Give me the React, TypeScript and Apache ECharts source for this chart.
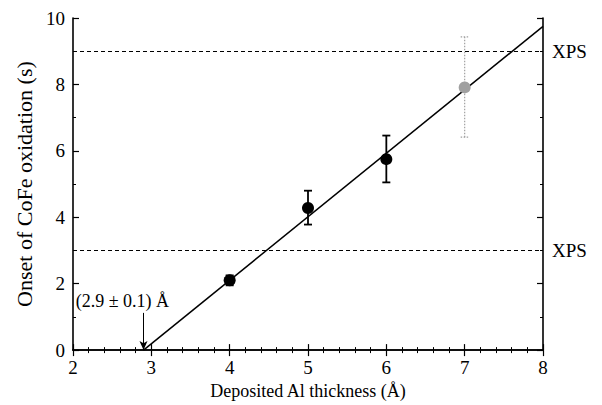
import React, { useEffect, useRef } from "react";
import * as echarts from "echarts";

const thickness = [4, 5, 6, 7];
const onset = [2.1, 4.28, 5.75, 7.91];
const errLow = [1.95, 3.78, 5.05, 6.41];
const errHigh = [2.25, 4.8, 6.46, 9.43];
const pointColors = ["#000000", "#000000", "#000000", "#a0a0a0"];
const fitLine = [
  [2.9, 0],
  [8, 9.75],
];
const xpsLevels = [3, 9];
const arrowStart = [2.9, 1.12];
const arrowEnd = [2.9, 0];
const annotationText = "(2.9 ± 0.1) Å";
const annotationPos = [2.63, 1.48];

const FONT = "Liberation Serif";

export default function App() {
  const ref = useRef<HTMLDivElement>(null);
  useEffect(() => {
    const chart = echarts.init(ref.current!, null, { renderer: "svg" });
    const axisCommon = {
      axisLine: { show: true, lineStyle: { color: "#000", width: 1.6 } },
      splitLine: { show: false },
    };
    chart.setOption({
      animation: false,
      backgroundColor: "#fff",
      grid: { left: 73, right: 59, top: 18, bottom: 54 },
      xAxis: [
        {
          type: "value",
          min: 2,
          max: 8,
          interval: 1,
          name: "Deposited Al thickness (Å)",
          nameLocation: "middle",
          nameGap: 28,
          nameTextStyle: { fontFamily: FONT, fontSize: 18, color: "#000" },
          ...axisCommon,
          axisTick: { inside: true, length: 6, lineStyle: { color: "#000", width: 1.2 } },
          minorTick: { show: true, splitNumber: 5, length: 3, lineStyle: { color: "#000", width: 1 } },
          axisLabel: { fontFamily: FONT, fontSize: 19, color: "#000", margin: 8 },
        },
        {
          type: "value",
          position: "top",
          min: 2,
          max: 8,
          interval: 1,
          ...axisCommon,
          axisTick: { inside: true, length: 6, lineStyle: { color: "#000", width: 1.2 } },
          minorTick: { show: true, splitNumber: 5, length: 3, lineStyle: { color: "#000", width: 1 } },
          axisLabel: { show: false },
        },
      ],
      yAxis: [
        {
          type: "value",
          min: 0,
          max: 10,
          interval: 2,
          name: "Onset of CoFe oxidation (s)",
          nameLocation: "middle",
          nameGap: 35,
          nameTextStyle: { fontFamily: FONT, fontSize: 22, color: "#000" },
          ...axisCommon,
          axisTick: { inside: true, length: 6, lineStyle: { color: "#000", width: 1.2 } },
          minorTick: { show: true, splitNumber: 2, length: 3, lineStyle: { color: "#000", width: 1 } },
          axisLabel: { fontFamily: FONT, fontSize: 19, color: "#000", margin: 8 },
        },
        {
          type: "value",
          position: "right",
          min: 0,
          max: 10,
          interval: 2,
          ...axisCommon,
          axisTick: { inside: true, length: 6, lineStyle: { color: "#000", width: 1.2 } },
          minorTick: { show: true, splitNumber: 2, length: 3, lineStyle: { color: "#000", width: 1 } },
          axisLabel: { show: false },
        },
      ],
      series: [
        {
          type: "line",
          data: fitLine,
          symbol: "none",
          lineStyle: { color: "#000", width: 1.5 },
          z: 3,
          markLine: {
            silent: true,
            symbol: ["none", "none"],
            lineStyle: { color: "#000", type: [4, 3], width: 1.2 },
            label: {
              show: true,
              position: "end",
              formatter: "XPS",
              fontFamily: FONT,
              fontSize: 19,
              color: "#000",
              distance: 9,
            },
            data: xpsLevels.map((v) => ({ yAxis: v })),
          },
        },
        {
          type: "line",
          data: [],
          z: 4,
          markLine: {
            silent: true,
            symbol: ["none", "arrow"],
            symbolSize: [6, 9],
            lineStyle: { color: "#000", type: "solid", width: 1 },
            label: { show: false },
            data: [[{ coord: arrowStart }, { coord: arrowEnd }]],
          },
        },
        {
          type: "custom",
          z: 4,
          data: thickness.map((x, i) => [x, errLow[i], errHigh[i], i]),
          renderItem: (params: any, api: any) => {
            const x = api.value(0);
            const lo = api.coord([x, api.value(1)]);
            const hi = api.coord([x, api.value(2)]);
            const i = api.value(3);
            const gray = i === 3;
            const style = {
              stroke: pointColors[i],
              lineWidth: gray ? 1.2 : 1.8,
              lineDash: gray ? [1.5, 1.5] : null,
            };
            const hw = 4;
            return {
              type: "group",
              children: [
                { type: "line", shape: { x1: lo[0], y1: lo[1], x2: hi[0], y2: hi[1] }, style },
                { type: "line", shape: { x1: lo[0] - hw, y1: lo[1], x2: lo[0] + hw, y2: lo[1] }, style },
                { type: "line", shape: { x1: hi[0] - hw, y1: hi[1], x2: hi[0] + hw, y2: hi[1] }, style },
              ],
            };
          },
        },
        {
          type: "scatter",
          z: 5,
          symbol: "circle",
          symbolSize: 12,
          data: thickness.map((x, i) => ({
            value: [x, onset[i]],
            itemStyle: { color: pointColors[i], opacity: 1 },
          })),
        },
        {
          type: "scatter",
          symbolSize: 0,
          itemStyle: { opacity: 1 },
          data: [
            {
              value: annotationPos,
              label: {
                show: true,
                position: "inside",
                formatter: annotationText,
                fontFamily: FONT,
                fontSize: 18,
                color: "#000",
              },
            },
          ],
        },
      ],
    });
    return () => chart.dispose();
  }, []);
  return <div ref={ref} style={{ width: 602, height: 405, position: "absolute", left: 0, top: 0 }} />;
}
